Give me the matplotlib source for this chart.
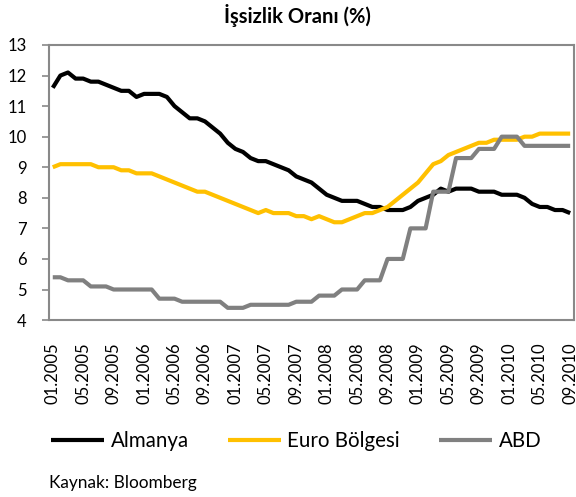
import matplotlib
matplotlib.use("Agg")
import matplotlib.pyplot as plt
import numpy as np

plt.rcParams['font.family'] = ['Lato', 'DejaVu Sans']

# monthly, 01.2005 .. 09.2010
months = [f"{m:02d}.{y}" for y in range(2005, 2011) for m in range(1, 13)][:69]

almanya = [11.6, 12.0, 12.1, 11.9, 11.9, 11.8, 11.8, 11.7, 11.6, 11.5, 11.5, 11.3,
           11.4, 11.4, 11.4, 11.3, 11.0, 10.8, 10.6, 10.6, 10.5, 10.3, 10.1, 9.8,
           9.6, 9.5, 9.3, 9.2, 9.2, 9.1, 9.0, 8.9, 8.7, 8.6, 8.5, 8.3,
           8.1, 8.0, 7.9, 7.9, 7.9, 7.8, 7.7, 7.7, 7.6, 7.6, 7.6, 7.7,
           7.9, 8.0, 8.1, 8.3, 8.2, 8.3, 8.3, 8.3, 8.2, 8.2, 8.2, 8.1,
           8.1, 8.1, 8.0, 7.8, 7.7, 7.7, 7.6, 7.6, 7.5]

euro = [9.0, 9.1, 9.1, 9.1, 9.1, 9.1, 9.0, 9.0, 9.0, 8.9, 8.9, 8.8,
        8.8, 8.8, 8.7, 8.6, 8.5, 8.4, 8.3, 8.2, 8.2, 8.1, 8.0, 7.9,
        7.8, 7.7, 7.6, 7.5, 7.6, 7.5, 7.5, 7.5, 7.4, 7.4, 7.3, 7.4,
        7.3, 7.2, 7.2, 7.3, 7.4, 7.5, 7.5, 7.6, 7.7, 7.9, 8.1, 8.3,
        8.5, 8.8, 9.1, 9.2, 9.4, 9.5, 9.6, 9.7, 9.8, 9.8, 9.9, 9.9,
        9.9, 9.9, 10.0, 10.0, 10.1, 10.1, 10.1, 10.1, 10.1]

abd = [5.4, 5.4, 5.3, 5.3, 5.3, 5.1, 5.1, 5.1, 5.0, 5.0, 5.0, 5.0,
       5.0, 5.0, 4.7, 4.7, 4.7, 4.6, 4.6, 4.6, 4.6, 4.6, 4.6, 4.4,
       4.4, 4.4, 4.5, 4.5, 4.5, 4.5, 4.5, 4.5, 4.6, 4.6, 4.6, 4.8,
       4.8, 4.8, 5.0, 5.0, 5.0, 5.3, 5.3, 5.3, 6.0, 6.0, 6.0, 7.0,
       7.0, 7.0, 8.2, 8.2, 8.2, 9.3, 9.3, 9.3, 9.6, 9.6, 9.6, 10.0,
       10.0, 10.0, 9.7, 9.7, 9.7, 9.7, 9.7, 9.7, 9.7]

x = np.arange(len(months))
axis_gray = "#898989"

fig = plt.figure(figsize=(5.76, 4.97), dpi=100)
ax = fig.add_axes([0.085, 0.356, 0.9115, 0.5535])

ax.plot(x, almanya, color="black", lw=3, label="Almanya", solid_capstyle="butt")
ax.plot(x, euro, color="#FFC000", lw=3, label="Euro Bölgesi", solid_capstyle="butt")
ax.plot(x, abd, color="#808080", lw=3, label="ABD", solid_capstyle="butt")

ax.set_xlim(-0.5, 68.5)
ax.set_ylim(4, 13)
ax.set_yticks(range(4, 14))
ax.set_xticks(x[::4])
ax.set_xticklabels(months[::4], rotation=90, fontsize=12)
ax.tick_params(axis="x", length=0, pad=16)
ax.tick_params(axis="y", length=5, width=1.2, color=axis_gray, pad=11, labelsize=12)

for s in ax.spines.values():
    s.set_color(axis_gray)
    s.set_linewidth(1.5)

fig.text(0.516, 0.968, "İşsizlik Oranı (%)", ha="center", va="center",
         fontsize=14.5, fontweight="bold")

fig.legend(loc="center", bbox_to_anchor=(0.514, 0.1127), ncol=3, frameon=False,
           fontsize=14.8, handlelength=2.6, handletextpad=0.3, columnspacing=1.9)

fig.text(0.085, 0.028, "Kaynak: Bloomberg", ha="left", va="center", fontsize=12.4)

fig.savefig("out.png", dpi=100)
